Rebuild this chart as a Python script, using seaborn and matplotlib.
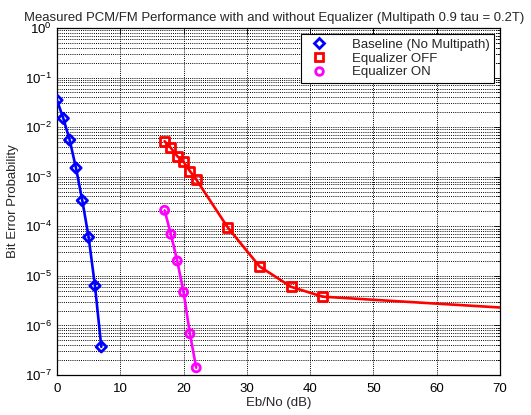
import numpy as np
import pandas as pd
import matplotlib
matplotlib.use("Agg")
import matplotlib.pyplot as plt
import seaborn as sns
from matplotlib.ticker import LogLocator, FixedLocator, NullFormatter
from matplotlib.lines import Line2D

# ---- data ----
base_ebno = [0, 1, 2, 3, 4, 5, 6, 7]
base_ber = [3.5e-2, 1.5e-2, 5.5e-3, 1.5e-3, 3.3e-4, 6.0e-5, 6.3e-6, 3.7e-7]

off_ebno = [17, 18, 19, 20, 21, 22, 27, 32, 37, 42]
off_ber = [5.2e-3, 3.8e-3, 2.6e-3, 2.0e-3, 1.3e-3, 8.8e-4, 9.4e-5, 1.55e-5, 6.0e-6, 3.8e-6]
off_tail_ebno = [42, 70]
off_tail_ber = [3.8e-6, 2.3e-6]

on_ebno = [17, 18, 19, 20, 21, 22]
on_ber = [2.1e-4, 6.9e-5, 2.0e-5, 4.7e-6, 6.8e-7, 1.4e-7]

labels = ["Baseline (No Multipath)", "Equalizer OFF", "Equalizer ON"]
colors = ["#0000ff", "#ff0000", "#ff00ff"]
markers = ["D", "s", "o"]

title = "Measured PCM/FM Performance with and without Equalizer (Multipath 0.9 tau = 0.2T)"
xlabel = "Eb/No (dB)"
ylabel = "Bit Error Probability"

sns.set_theme(style="white")
plt.rcParams["font.family"] = ["Liberation Sans", "DejaVu Sans"]
plt.rcParams["mathtext.fontset"] = "custom"
plt.rcParams["mathtext.rm"] = "Liberation Sans"

fig = plt.figure(figsize=(5.31, 4.15), dpi=100)
ax = fig.add_axes([57/531, 1-375/415, (500-57)/531, (375-28)/415])

df_base = pd.DataFrame({"x": base_ebno, "y": base_ber})
df_off = pd.DataFrame({"x": off_ebno, "y": off_ber})
df_tail = pd.DataFrame({"x": off_tail_ebno, "y": off_tail_ber})
df_on = pd.DataFrame({"x": on_ebno, "y": on_ber})

lw = 1.9
for df, c in [(df_base, colors[0]), (df_off, colors[1]), (df_tail, colors[1]), (df_on, colors[2])]:
    sns.lineplot(data=df, x="x", y="y", ax=ax, color=c, lw=lw, sort=False,
                 estimator=None, zorder=3)

msizes = [28, 42, 34]
for df, c, m, s in [(df_base, colors[0], markers[0], msizes[0]),
                    (df_off, colors[1], markers[1], msizes[1]),
                    (df_on, colors[2], markers[2], msizes[2])]:
    sns.scatterplot(data=df, x="x", y="y", ax=ax, marker=m, s=s,
                    facecolor="none", edgecolor=c, linewidth=2.0, zorder=4)

ax.set_yscale("log")
ax.set_xlim(0, 70)
ax.set_ylim(1e-7, 1)
ax.xaxis.set_major_locator(FixedLocator(np.arange(0, 71, 10)))
ax.yaxis.set_major_locator(LogLocator(base=10, numticks=10))
ax.yaxis.set_minor_locator(LogLocator(base=10, subs=np.arange(2, 10), numticks=20))
ax.yaxis.set_minor_formatter(NullFormatter())

gkw = dict(color="black", linestyle=(0, (1, 1.2)), linewidth=0.7)
ax.grid(True, which="major", axis="both", **gkw)
ax.grid(True, which="minor", axis="y", **gkw)
ax.set_axisbelow(True)

for sp in ax.spines.values():
    sp.set_color("black")
    sp.set_linewidth(0.9)
ax.tick_params(axis="both", which="both", direction="in", top=True, right=True,
               colors="black", labelsize=9.5)
ax.tick_params(which="major", length=4, width=0.6)
ax.tick_params(which="minor", length=2.5, width=0.6)
ax.tick_params(axis="x", pad=6)

ax.set_title(title, fontsize=9.45, pad=5, x=0.49)
ax.set_xlabel(xlabel, fontsize=9.5, labelpad=1)
ax.set_ylabel(ylabel, fontsize=9.5, labelpad=4)

handles = [Line2D([], [], linestyle="none", marker=m, markersize=ms,
                  markerfacecolor="none", markeredgecolor=c, markeredgewidth=2.0)
           for m, c, ms in zip(markers, colors, [4.8, 5.8, 5.5])]
leg = ax.legend(handles, labels, loc="upper right", fontsize=9.5, frameon=True,
                fancybox=False, edgecolor="black", framealpha=1,
                borderaxespad=0.45, handletextpad=1.5, labelspacing=0.12,
                borderpad=0.35, handlelength=2.0)
leg.get_frame().set_linewidth(0.8)

fig.savefig("out.png", dpi=100)
